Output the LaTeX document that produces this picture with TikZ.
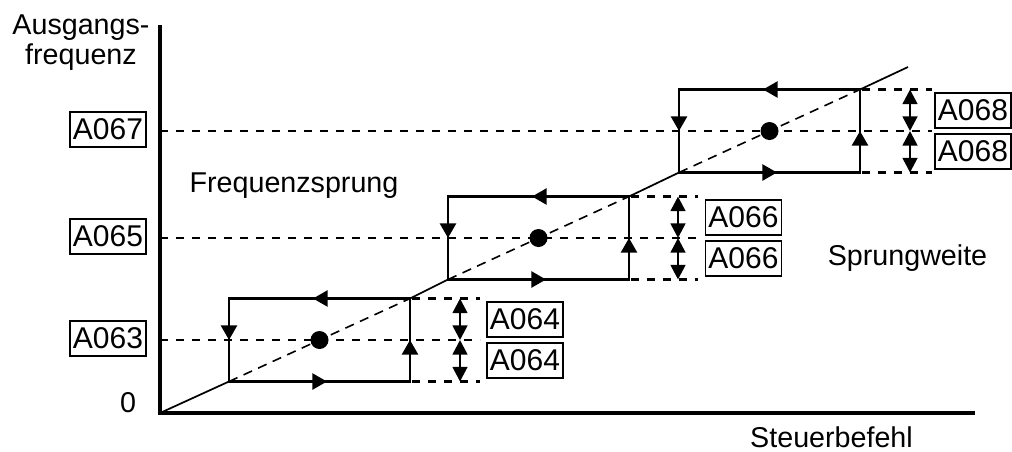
\documentclass[tikz,border=0pt]{standalone}
\usepackage{fontspec}
\setmainfont{Liberation Sans}
\usetikzlibrary{arrows.meta,calc}
\tikzset{
  pbox/.style={draw,line width=1.3pt,minimum width=57pt,minimum height=26pt,inner sep=1pt,font=\fontsize{22.5}{24}\selectfont},
  guide/.style={line width=2pt,dash pattern=on 6pt off 6pt},
  hyst/.style={line width=2pt},
  midtip/.style={line width=2pt,-{Triangle[width=12pt,length=11pt]}},
  span/.style={line width=2pt,{Triangle[width=11pt,length=11pt]}-{Triangle[width=11pt,length=11pt]}},
}
\begin{document}
\begin{tikzpicture}[x=0.75pt,y=-0.75pt,font=\fontsize{21.5}{22.5}\selectfont]
  \useasboundingbox (0,0) rectangle (1012,451);
  % axes
  \coordinate (o) at (160,413);
  \coordinate (ytop) at (160,25);
  \coordinate (xend) at (975,413);
  \draw[line width=2.6pt] (ytop) -- (o) -- (xend);
  % axis labels
  \node[anchor=north,align=center,inner sep=0] (ylab) at (81,15) {Ausgangs-\\frequenz};
  \node[anchor=base] (zero) at (128,412) {0};
  \node[anchor=base] (xlab) at (831.5,447) {Steuerbefehl};
  \node[anchor=base] (jump) at (294,192) {Frequenzsprung};
  \node[anchor=base] (wide) at (907.5,265) {Sprungweite};
  % jump bands: left x, right x, centre y, arrow x, guide end x, label x, axis label, width label
  \foreach \xl/\xr/\yc/\xa/\xe/\xt/\lname/\rname [count=\i] in {
      229/410/340/460/480/525/A063/A064,
      448/629/238/678/698/743.5/A065/A066,
      679/860/131/910/932/973/A067/A068}{
    \coordinate (bl\i) at (\xl,\yc+41.5);
    \coordinate (br\i) at (\xr,\yc+41.5);
    \coordinate (tr\i) at (\xr,\yc-41.5);
    \coordinate (tl\i) at (\xl,\yc-41.5);
    % dashed guides
    \draw[guide] (160,\yc) -- (\xe,\yc);
    \draw[guide] (tr\i) ++(2,0) -- (\xe,\yc-41.5);
    \draw[guide] (br\i) ++(2,0) -- (\xe,\yc+41.5);
    % band frame with direction tips
    \draw[hyst] (bl\i) -- (br\i) -- (tr\i) -- (tl\i) -- cycle;
    \draw[midtip] (bl\i) -- ++(98,0);
    \draw[midtip] (br\i) -- (\xr,\yc);
    \draw[midtip] (tr\i) -- ++(-97,0);
    \draw[midtip] (tl\i) -- (\xl,\yc);
    % dashed diagonal and set point
    \draw[line width=1.2pt,dash pattern=on 7pt off 5pt] (bl\i) -- (tr\i);
    \fill ($(bl\i)!0.5!(tr\i)$) circle (6.75pt);
    % width arrows
    \draw[span] (\xa,\yc-41.5) -- (\xa,\yc);
    \draw[span] (\xa,\yc) -- (\xa,\yc+41.5);
    % parameter labels
    \node[pbox] (lab\i) at (108,\yc-1.5) {\lname};
    \node[pbox] (up\i) at (\xt,\yc-20.5) {\rname};
    \node[pbox] (dn\i) at (\xt,\yc+20.5) {\rname};
  }
  % solid characteristic between the bands
  \coordinate (lend) at (908,67);
  \draw[line width=1.3pt] (o) -- (bl1) (tr1) -- (bl2) (tr2) -- (bl3) (tr3) -- (lend);
\end{tikzpicture}
\end{document}
